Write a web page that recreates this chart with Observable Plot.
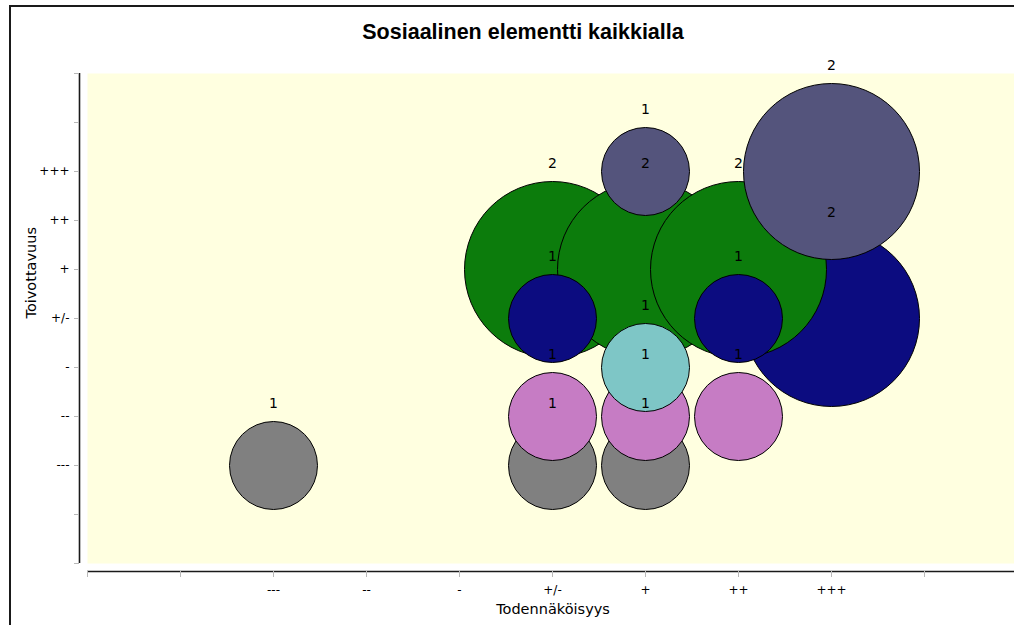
<!DOCTYPE html>
<html>
<head>
<meta charset="utf-8">
<script src="https://cdn.jsdelivr.net/npm/d3@7"></script>
<script src="https://cdn.jsdelivr.net/npm/@observablehq/plot@0.6"></script>
<style>
html, body { margin: 0; padding: 0; background: #fff; overflow: hidden; width: 1014px; height: 625px; }
#chart { position: relative; width: 1014px; height: 625px; overflow: hidden; }
#chart svg { position: absolute; left: 0; top: 0; }
#border { position: absolute; left: 9px; top: 5px; width: 1100px; height: 700px; border-left: 2px solid #1a1a1a; border-top: 2px solid #1a1a1a; pointer-events: none; }
</style>
</head>
<body>
<div id="chart"><div id="border"></div></div>
<script>
// Category tick labels (index = position on the axis)
const xCats = ["", "", "---", "--", "-", "+/-", "+", "++", "+++", "", ""];
const yCats = ["", "", "---", "--", "-", "+/-", "+", "++", "+++", "", ""];

// Bubbles, in drawing order
const bubbleX     = ["---", "+/-", "+",   "+/-", "+",  "++", "+++", "+/-", "+", "++", "+/-", "++",  "+", "+",   "+++"];
const bubbleY     = ["---", "---", "---", "--",  "--", "--", "+/-", "+",   "+", "+",  "+/-", "+/-", "-", "+++", "+++"];
const bubbleCount = [1,     1,     1,     1,     1,    1,    2,     2,     2,   2,    1,     1,     1,   1,     2];
const bubbleGroup = ["A",   "A",   "A",   "B",   "B",  "B",  "C",   "D",   "D", "D",  "C",   "C",   "E", "F",   "F"];

const groups = ["A", "B", "C", "D", "E", "F"];
const groupColors = ["#808080", "#c67cc4", "#0c0c80", "#0c7c0c", "#7ec6c6", "#54547c"];

const data = bubbleX.map((x, i) => ({
  x: xCats.indexOf(x),
  y: yCats.indexOf(bubbleY[i]),
  n: bubbleCount[i],
  g: bubbleGroup[i]
}));

const rMax = 88, rDomainMax = 2, labelGap = 18;
const font = "DejaVu Sans";
const counts = Array.from(new Set(bubbleCount));

const chart = Plot.plot({
  width: 1014,
  height: 625,
  marginLeft: 87,
  marginRight: 0,
  marginTop: 73,
  marginBottom: 62,
  style: { fontFamily: font, background: "white", overflow: "hidden" },
  x: { domain: [0, 10], range: [87, 1017] },
  y: { domain: [0, 10], range: [563, 73] },
  r: { type: "linear", domain: [0, rDomainMax], range: [0, rMax] },
  color: { domain: groups, range: groupColors },
  marks: [
    Plot.frame({ fill: "#ffffe0", stroke: "none" }),
    Plot.ruleY([0], { dy: 8, stroke: "#1a1a1a", strokeWidth: 1.6 }),
    Plot.ruleX([0], { dx: -8, stroke: "#1a1a1a", strokeWidth: 1.6 }),
    Plot.axisX({ ticks: d3.range(0, 11), tickFormat: i => xCats[i], tickSize: 6, tickPadding: 8, dy: 8,
                 stroke: "#b8b8b8", fill: "black", label: null, fontSize: 12 }),
    Plot.axisY({ ticks: d3.range(0, 11), tickFormat: i => yCats[i], tickSize: 5, tickPadding: 5, dx: -8,
                 stroke: "#b8b8b8", fill: "black", label: null, fontSize: 12 }),
    Plot.dot(data, { x: "x", y: "y", r: "n", fill: "g", stroke: "black", strokeWidth: 1, fillOpacity: 1, sort: null }),
    ...counts.map(c => Plot.text(data.filter(d => d.n === c), {
      x: "x", y: "y", text: "n", dy: -(c / rDomainMax * rMax + labelGap),
      fill: "black", fontSize: 14, fontFamily: font
    })),
    Plot.text(["Sosiaalinen elementti kaikkialla"], { text: d => d, frameAnchor: "top", dy: -50, dx: -28,
      fontSize: 21.5, fontWeight: "bold", fontFamily: "Liberation Sans", fill: "black" }),
    Plot.text(["Todennäköisyys"], { text: d => d, frameAnchor: "bottom", dy: 50, dx: 2,
      fontSize: 14.5, fontFamily: font, fill: "black" }),
    Plot.text(["Toivottavuus"], { text: d => d, frameAnchor: "left", dx: -56, rotate: -90,
      fontSize: 14.5, fontFamily: font, fill: "black" })
  ]
});

document.getElementById("chart").prepend(chart);
</script>
</body>
</html>
